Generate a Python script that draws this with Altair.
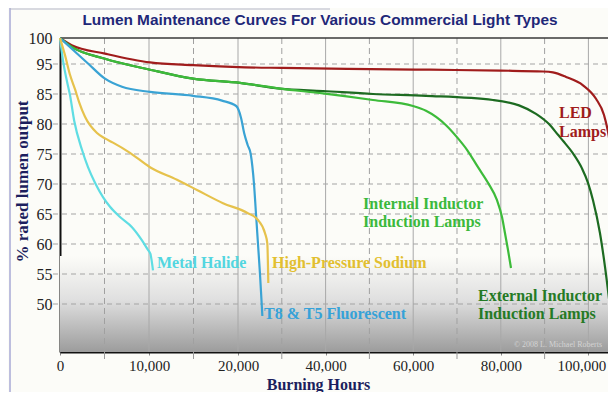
import altair as alt
import pandas as pd

TITLE = "Lumen Maintenance Curves For Various Commercial Light Types"
X_TITLE = "Burning Hours"
Y_TITLE = "% rated lumen output"
WATERMARK = "\u00a9 2008 L. Michael Roberts"

# axis ticks (the original chart uses uneven spacing on both axes)
x_tick_values = [0, 10000, 20000, 40000, 60000, 80000, 100000]
x_minor_values = [5000, 15000, 30000, 50000, 70000, 90000]
y_tick_values = [100, 95, 85, 80, 75, 70, 65, 60, 55, 50]

# series (hours, % rated lumen output)
led_hours = [0, 1315, 5056, 10112, 14944, 21598, 30000, 45000, 63836, 80000, 89635, 91900, 94886, 98767, 101735, 103562, 104475, 105388]
led_pct = [100, 98.6, 97.0, 95.3, 94.6, 93.9, 93.7, 93.4, 93.1, 92.8, 92.5, 92.2, 90.7, 87.9, 84.2, 81.5, 78.7, 74.5]

ext_hours = [0, 1315, 5056, 10112, 14944, 20457, 29589, 39406, 50822, 62922, 78219, 84155, 88037, 91005, 93059, 94201, 96484, 98539, 99909, 101050, 102648, 103790, 104932]
ext_pct = [100, 98.3, 96.0, 93.1, 90.1, 88.7, 86.8, 86.0, 85.0, 84.7, 84.0, 83.1, 81.7, 80.0, 78.2, 77.2, 75.1, 72.6, 70.2, 67.3, 61.8, 56.2, 49.5]

int_hours = [0, 1315, 5056, 10112, 14944, 20457, 29589, 39406, 50822, 59954, 62922, 67489, 70228, 72283, 74794, 77078, 79133, 80274, 80959, 81644, 82329]
int_pct = [100, 98.3, 96.0, 93.1, 90.1, 88.7, 86.8, 85.2, 84.0, 83.0, 82.2, 79.8, 77.6, 75.7, 72.8, 70.2, 67.3, 64.5, 61.8, 59.0, 56.0]

t8_hours = [0, 1348, 3146, 5056, 6966, 10112, 14944, 18202, 19800, 20700, 21400, 22200, 22900, 23653, 24110, 24566, 25019, 25411, 25560]
t8_pct = [100, 97.9, 95.1, 90.1, 87.4, 85.7, 84.7, 83.9, 83.0, 81.0, 78.5, 76.5, 75.0, 70.0, 65.0, 60.0, 55.0, 50.0, 48.0]

mh_hours = [0, 370, 800, 1100, 1600, 2470, 3146, 3933, 4831, 5618, 6742, 8090, 9213, 9888, 10150, 10449]
mh_pct = [100, 95.3, 89.0, 85.0, 80.5, 75.7, 72.8, 70.2, 67.8, 66.2, 64.5, 62.8, 60.6, 59.0, 58.4, 55.6]

hps_hours = [0, 562, 1124, 1685, 2135, 2809, 4157, 5056, 5955, 7865, 10112, 13146, 15393, 18315, 22055, 24566, 26164, 26690, 26918]
hps_pct = [100, 96.7, 91.4, 86.6, 83.7, 81.2, 78.5, 77.6, 76.9, 75.2, 72.8, 70.7, 69.0, 66.8, 65.2, 64.0, 61.8, 60.1, 53.5]

series_names = ["LED Lamps", "External Inductor Induction Lamps", "Internal Inductor Induction Lamps",
                "T8 & T5 Fluorescent", "Metal Halide", "High-Pressure Sodium"]
series_colors = ["#a01c1c", "#1d6b21", "#3dbb3a", "#3aa3d4", "#5fdde3", "#e6c24c"]
series_data = [(led_hours, led_pct), (ext_hours, ext_pct), (int_hours, int_pct),
               (t8_hours, t8_pct), (mh_hours, mh_pct), (hps_hours, hps_pct)]

# in-chart labels
label_text = ["Metal Halide", "High-Pressure Sodium", "T8 & T5 Fluorescent",
              "Internal Inductor", "Induction Lamps", "External Inductor", "Induction Lamps",
              "LED", "Lamps"]
label_hours = [10900, 27760, 25940, 48540, 48540, 74790, 74790, 93290, 93290]
label_pct = [56.8, 56.8, 48.4, 66.6, 63.7, 51.3, 48.4, 81.8, 78.7]
label_colors = ["#52d6e0", "#e2bf30", "#36a2d8", "#3cb93c", "#3cb93c", "#257a25", "#257a25", "#a01c1c", "#a01c1c"]

rows = []
for name, (hs, ps) in zip(series_names, series_data):
    for i, (h, p) in enumerate(zip(hs, ps)):
        rows.append({"series": name, "hours": h, "pct": p, "i": i})
lines_df = pd.DataFrame(rows)
labels_df = pd.DataFrame({"text": label_text, "hours": label_hours, "pct": label_pct, "col": label_colors})

W, H = 548, 314
x_scale = alt.Scale(domain=[0, 20000, 104475], range=[0, 178, W], nice=False, zero=False)
y_scale = alt.Scale(domain=[42.0, 85, 95, 100], range=[H, 56, 26, 0], nice=False, zero=False)

SERIF = "Liberation Serif"
NAVY = "#1c1f5e"

x_axis = alt.Axis(values=x_tick_values, labelExpr="format(datum.value, ',')", grid=False,
                  ticks=True, tickSize=3, tickColor="#888888", domainColor="#111111", domainWidth=2,
                  labelFont=SERIF, labelFontSize=15, labelColor="#222222", labelPadding=3,
                  labelFlush=False, labelOverlap=False,
                  labelOffset={"condition": {"test": "datum.value === 100000", "value": -7}, "value": 0},
                  title=X_TITLE, titleFont=SERIF, titleFontSize=16, titleFontWeight="bold",
                  titleColor=NAVY, titleX=258, titleY=37, titleBaseline="alphabetic",
                  titleAlign="center")
y_axis = alt.Axis(values=y_tick_values, grid=False, ticks=False, domainColor="#111111",
                  domainWidth=2, labelFont=SERIF, labelFontSize=16, labelColor="#222222",
                  labelPadding=8, labelOverlap=False,
                  title=Y_TITLE, titleFont=SERIF, titleFontSize=17, titleFontWeight="bold",
                  titleColor=NAVY, titleX=-38, titleY=143, titleAngle=-90,
                  titleAlign="center", titleBaseline="middle")

one = pd.DataFrame({"a": [0]})

# background gradient in lower part of the plot
grad = alt.Chart(one).mark_rect(
    color=alt.LinearGradient(
        gradient="linear",
        stops=[alt.GradientStop(color="#fcfcf8", offset=0),
               alt.GradientStop(color="#e0e0e0", offset=0.45),
               alt.GradientStop(color="#9c9c9c", offset=1)],
        x1=0, x2=0, y1=0, y2=1)
).encode(x=alt.value(0), x2=alt.value(W), y=alt.value(218), y2=alt.value(H))

hgrid = alt.Chart(pd.DataFrame({"p": y_tick_values[1:]})).mark_rule(
    color="#a4a4a4", strokeWidth=1, strokeDash=[5, 4]
).encode(y=alt.Y("p:Q", scale=y_scale, axis=y_axis), x=alt.value(-7), x2=alt.value(W))

top_line = alt.Chart(pd.DataFrame({"p": y_tick_values[:1]})).mark_rule(
    color="#3a3a3a", strokeWidth=1.5
).encode(y=alt.Y("p:Q", scale=y_scale, axis=y_axis), x=alt.value(0), x2=alt.value(W))

vmajor = alt.Chart(pd.DataFrame({"h": x_tick_values[1:]})).mark_rule(
    color="#a8a8a8", strokeWidth=1
).encode(x=alt.X("h:Q", scale=x_scale, axis=x_axis), y=alt.value(0), y2=alt.value(H))

vminor = alt.Chart(pd.DataFrame({"h": x_minor_values})).mark_rule(
    color="#a0a0a0", strokeWidth=1, strokeDash=[6, 4]
).encode(x=alt.X("h:Q", scale=x_scale, axis=x_axis), y=alt.value(0), y2=alt.value(H))

vminor_ticks = alt.Chart(pd.DataFrame({"h": x_minor_values})).mark_rule(
    color="#999999", strokeWidth=1
).encode(x=alt.X("h:Q", scale=x_scale, axis=x_axis), y=alt.value(H), y2=alt.value(H + 7))

lines = alt.Chart(lines_df).mark_line(strokeWidth=2.2, interpolate="monotone").encode(
    x=alt.X("hours:Q", scale=x_scale, axis=x_axis),
    y=alt.Y("pct:Q", scale=y_scale, axis=y_axis),
    color=alt.Color("series:N", scale=alt.Scale(domain=series_names, range=series_colors), legend=None),
    order=alt.Order("i:Q"),
)

labels = alt.Chart(labels_df).mark_text(
    align="left", baseline="middle", font=SERIF, fontSize=16, fontWeight="bold"
).encode(
    x=alt.X("hours:Q", scale=x_scale, axis=x_axis),
    y=alt.Y("pct:Q", scale=y_scale, axis=y_axis),
    text="text:N",
    color=alt.Color("col:N", scale=None),
)

title_mark = alt.Chart(one).mark_text(
    align="center", baseline="alphabetic", font="Liberation Sans", fontSize=15.4, fontWeight="bold",
    color="#1f2878", text=TITLE
).encode(x=alt.value(260), y=alt.value(-13))

watermark = alt.Chart(one).mark_text(
    align="left", baseline="middle", font=SERIF, fontSize=8, color="#d4d4d4", text=WATERMARK
).encode(x=alt.value(454), y=alt.value(307))

frame_left = alt.Chart(one).mark_rule(color="#a9aad6", strokeWidth=1.5).encode(
    x=alt.value(-50), y=alt.value(-30), y2=alt.value(H + 40))
frame_top = alt.Chart(one).mark_rule(color="#b4b6c8", strokeWidth=1.2).encode(
    x=alt.value(-50), x2=alt.value(270), y=alt.value(-29))

chart = alt.layer(
    grad, hgrid, vmajor, vminor, vminor_ticks, top_line, lines, labels, title_mark, watermark,
    frame_left, frame_top
).properties(
    width=W, height=H,
    autosize=alt.AutoSizeParams(type="none"),
    padding={"left": 52, "top": 30, "right": 0, "bottom": 40},
    background="#fcfcf8",
).configure_view(stroke="transparent")

chart.save("out.html", embed_options={"renderer": "svg", "actions": False})
